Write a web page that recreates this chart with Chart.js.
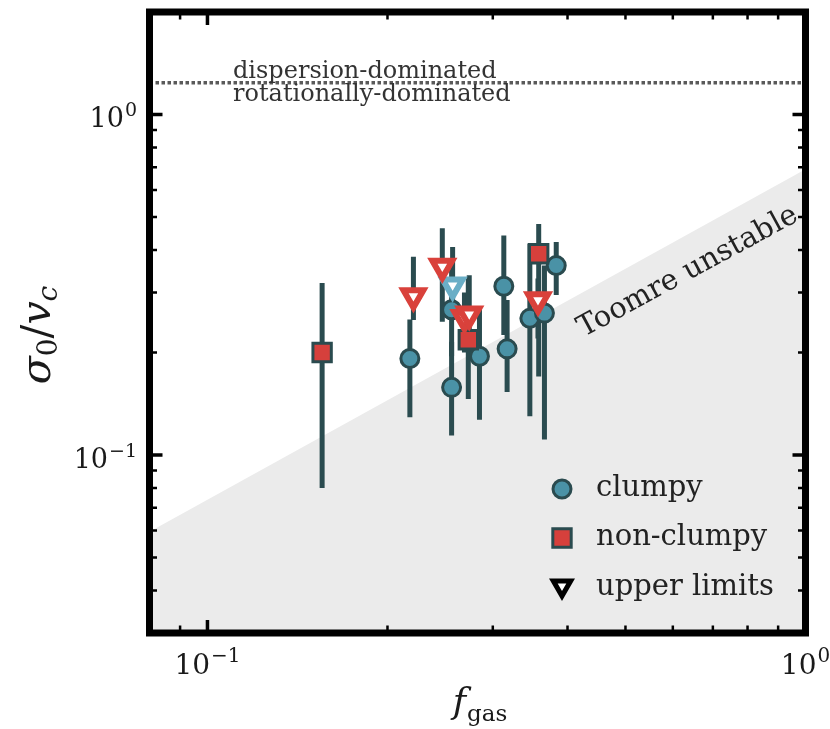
<!DOCTYPE html>
<html>
<head>
<meta charset="utf-8">
<script src="https://cdn.jsdelivr.net/npm/chart.js@4/dist/chart.umd.min.js"></script>
<style>
  html, body { margin: 0; padding: 0; background: #ffffff; }
  canvas { display: block; }
</style>
</head>
<body>
<canvas id="c" width="830" height="729"></canvas>
<script>
// Clumpy galaxies: gas fraction, sigma0/vc and the error-bar range
const clumpyFgas  = [0.218, 0.256, 0.256, 0.285, 0.313, 0.317, 0.346, 0.366, 0.383];
const clumpySigma = [0.192, 0.267, 0.158, 0.195, 0.313, 0.205, 0.252, 0.261, 0.360];
const clumpyLow   = [0.129, 0.195, 0.114, 0.127, 0.225, 0.153, 0.130, 0.111, 0.295];
const clumpyHigh  = [0.250, 0.350, 0.215, 0.270, 0.441, 0.285, 0.418, 0.360, 0.422];

// Non-clumpy galaxies
const nonClumpyFgas  = [0.1555, 0.273, 0.358];
const nonClumpySigma = [0.200, 0.218, 0.390];
const nonClumpyLow   = [0.080, 0.146, 0.170];
const nonClumpyHigh  = [0.320, 0.330, 0.477];

// Upper limits on sigma0/vc (non-clumpy)
const limitNcFgas  = [0.221, 0.247, 0.269, 0.274, 0.357];
const limitNcSigma = [0.293, 0.358, 0.253, 0.259, 0.285];
const limitNcLow   = [0.249, 0.246, 0.200, 0.200, 0.220];
const limitNcHigh  = [0.382, 0.463, 0.300, 0.337, 0.330];

// Upper limit on sigma0/vc (clumpy)
const limitClFgas  = [0.257];
const limitClSigma = [0.315];
const limitClLow   = [0.250];
const limitClHigh  = [0.408];

// Reference lines
const dispersionLimit = 1.24;                  // sigma0/vc separating the two regimes
const toomreFgas  = [0.08, 1.0];               // Toomre-unstable boundary
const toomreSigma = [0.0595, 0.69];

// Axes
const xRange = [0.08, 1.0];
const yRange = [0.03, 2.0];
const xMajor = [0.1, 1];
const xMinor = [0.09, 0.2, 0.3, 0.4, 0.5, 0.6, 0.7, 0.8, 0.9];
const yMajor = [0.1, 1];
const yMinor = [0.03, 0.04, 0.05, 0.06, 0.07, 0.08, 0.09, 0.2, 0.3, 0.4, 0.5, 0.6, 0.7, 0.8, 0.9];
const xTickLabels = [['10', '\u22121'], ['10', '0']];
const yTickLabels = [['10', '\u22121'], ['10', '0']];

const legendLabels = ['clumpy', 'non-clumpy', 'upper limits'];

const ERR = '#2a4b4f';
const TEAL = '#4a92a6';
const RED = '#d6403c';
const RED_EDGE = '#d9413b';
const CYAN_EDGE = '#6aaec6';
const SERIF = '"DejaVu Serif", "Liberation Serif", serif';

const pts = (xs, ys) => xs.map((v, i) => ({ x: v, y: ys[i] }));

function errorBars(xs, lo, hi) {
  return xs.map((v, i) => ({
    data: [{ x: v, y: lo[i] }, { x: v, y: hi[i] }],
    showLine: true,
    borderColor: ERR,
    borderWidth: 5,
    borderCapStyle: 'butt',
    pointRadius: 0,
    fill: false,
    order: 5
  }));
}

const datasets = [
  {
    // shaded Toomre-unstable region
    data: pts(toomreFgas, toomreSigma),
    showLine: true,
    borderWidth: 0,
    borderColor: 'rgba(0,0,0,0)',
    backgroundColor: '#ebebeb',
    fill: 'start',
    pointRadius: 0,
    order: 10
  },
  {
    data: [{ x: xRange[0], y: dispersionLimit }, { x: xRange[1], y: dispersionLimit }],
    showLine: true,
    borderColor: '#5a5a5a',
    borderWidth: 3.5,
    borderDash: [3.5, 2.5],
    borderCapStyle: 'butt',
    pointRadius: 0,
    fill: false,
    order: 9
  },
  ...errorBars(clumpyFgas, clumpyLow, clumpyHigh),
  ...errorBars(nonClumpyFgas, nonClumpyLow, nonClumpyHigh),
  ...errorBars(limitNcFgas, limitNcLow, limitNcHigh),
  ...errorBars(limitClFgas, limitClLow, limitClHigh),
  {
    data: pts(clumpyFgas, clumpySigma),
    pointStyle: 'circle',
    pointRadius: 9,
    pointBorderWidth: 3,
    pointBackgroundColor: TEAL,
    pointBorderColor: ERR,
    order: 3
  },
  {
    data: pts(nonClumpyFgas, nonClumpySigma),
    pointStyle: 'rect',
    pointRadius: 13,
    pointBorderWidth: 3,
    pointBackgroundColor: RED,
    pointBorderColor: ERR,
    order: 2
  },
  {
    data: pts(limitClFgas, limitClSigma),
    pointStyle: 'triangle',
    rotation: 180,
    pointRadius: 11.5,
    pointBorderWidth: 6,
    pointBackgroundColor: '#ffffff',
    pointBorderColor: CYAN_EDGE,
    order: 1
  },
  {
    data: pts(limitNcFgas, limitNcSigma),
    pointStyle: 'triangle',
    rotation: 180,
    pointRadius: 11.5,
    pointBorderWidth: 6,
    pointBackgroundColor: '#ffffff',
    pointBorderColor: RED_EDGE,
    order: 0
  }
];

function drawPowerLabel(ctx, base, sup, x, y, align, size) {
  ctx.font = size + 'px ' + SERIF;
  const wb = ctx.measureText(base).width;
  const supSize = Math.round(size * 0.7);
  ctx.font = supSize + 'px ' + SERIF;
  const ws = ctx.measureText(sup).width;
  const total = wb + ws + 1;
  let x0 = x;
  if (align === 'center') x0 = x - total / 2;
  else if (align === 'right') x0 = x - total;
  ctx.textAlign = 'left';
  ctx.textBaseline = 'alphabetic';
  ctx.font = size + 'px ' + SERIF;
  ctx.fillText(base, x0, y);
  ctx.font = supSize + 'px ' + SERIF;
  ctx.fillText(sup, x0 + wb + 1, y - size * 0.42);
}

function markerPath(ctx, style, cx, cy, r) {
  ctx.beginPath();
  if (style === 'circle') {
    ctx.arc(cx, cy, r, 0, Math.PI * 2);
  } else if (style === 'rect') {
    const s = r * Math.SQRT1_2;
    ctx.rect(cx - s, cy - s, 2 * s, 2 * s);
  } else {
    ctx.moveTo(cx, cy + r);
    ctx.lineTo(cx - r * Math.sqrt(3) / 2, cy - r / 2);
    ctx.lineTo(cx + r * Math.sqrt(3) / 2, cy - r / 2);
    ctx.closePath();
  }
}

const decor = {
  id: 'decor',
  afterDatasetsDraw(chart) {
    const { ctx, chartArea: a } = chart;
    const xs = chart.scales.x, ys = chart.scales.y;
    ctx.save();

    // annotation texts
    ctx.fillStyle = '#333333';
    ctx.font = '24px ' + SERIF;
    ctx.textAlign = 'left';
    ctx.textBaseline = 'alphabetic';
    const yLine = ys.getPixelForValue(dispersionLimit);
    ctx.fillText('dispersion-dominated', 233, yLine - 5);
    ctx.fillText('rotationally-dominated', 233, yLine + 18);

    // Toomre label along the boundary
    ctx.save();
    ctx.translate(688, 272);
    ctx.rotate(-28.5 * Math.PI / 180);
    ctx.fillStyle = '#222222';
    ctx.font = '29px ' + SERIF;
    ctx.textAlign = 'center';
    ctx.textBaseline = 'middle';
    ctx.fillText('Toomre unstable', 0, 0);
    ctx.restore();

    // legend
    const legX = 562, legY = [489, 538, 588];
    const styles = ['circle', 'rect', 'triangle'];
    styles.forEach((st, i) => {
      if (st === 'circle') {
        markerPath(ctx, 'circle', legX, legY[i], 9);
        ctx.fillStyle = TEAL; ctx.fill();
        ctx.lineWidth = 3; ctx.strokeStyle = ERR; ctx.stroke();
      } else if (st === 'rect') {
        markerPath(ctx, 'rect', legX, legY[i], 13);
        ctx.fillStyle = RED; ctx.fill();
        ctx.lineWidth = 3; ctx.strokeStyle = ERR; ctx.stroke();
      } else {
        markerPath(ctx, 'triangle', legX, legY[i] - 2, 10);
        ctx.fillStyle = '#ffffff'; ctx.fill();
        ctx.lineWidth = 5; ctx.lineJoin = 'miter'; ctx.strokeStyle = '#000000'; ctx.stroke();
      }
      ctx.fillStyle = '#222222';
      ctx.font = '29px ' + SERIF;
      ctx.textAlign = 'left';
      ctx.textBaseline = 'alphabetic';
      ctx.fillText(legendLabels[i], 596, legY[i] + 7);
    });

    // ticks on all four sides, pointing inwards
    ctx.strokeStyle = '#000000';
    const tick = (vals, len, w) => {
      ctx.lineWidth = w;
      vals.forEach(v => {
        const px = xs.getPixelForValue(v);
        if (px > a.left + 1 && px < a.right - 1) {
          ctx.beginPath();
          ctx.moveTo(px, a.bottom); ctx.lineTo(px, a.bottom - len);
          ctx.moveTo(px, a.top); ctx.lineTo(px, a.top + len);
          ctx.stroke();
        }
      });
    };
    const ytick = (vals, len, w) => {
      ctx.lineWidth = w;
      vals.forEach(v => {
        const py = ys.getPixelForValue(v);
        if (py > a.top + 1 && py < a.bottom - 1) {
          ctx.beginPath();
          ctx.moveTo(a.left, py); ctx.lineTo(a.left + len, py);
          ctx.moveTo(a.right, py); ctx.lineTo(a.right - len, py);
          ctx.stroke();
        }
      });
    };
    tick(xMajor, 13, 3.5);
    tick(xMinor, 7.5, 2.5);
    ytick(yMajor, 13, 3.5);
    ytick(yMinor, 7.5, 2.5);

    // frame
    ctx.lineWidth = 7;
    ctx.strokeStyle = '#000000';
    ctx.strokeRect(a.left, a.top, a.right - a.left, a.bottom - a.top);

    // tick labels
    ctx.fillStyle = '#1a1a1a';
    xMajor.forEach((v, i) => {
      drawPowerLabel(ctx, xTickLabels[i][0], xTickLabels[i][1], xs.getPixelForValue(v), 674, 'center', 28);
    });
    yMajor.forEach((v, i) => {
      drawPowerLabel(ctx, yTickLabels[i][0], yTickLabels[i][1], 137, ys.getPixelForValue(v) + 13, 'right', 27);
    });

    // x title: f_gas
    ctx.fillStyle = '#1a1a1a';
    ctx.textAlign = 'left';
    ctx.textBaseline = 'alphabetic';
    ctx.font = 'italic 36px ' + SERIF;
    const wf = ctx.measureText('f').width;
    ctx.font = '23px ' + SERIF;
    const wg = ctx.measureText('gas').width;
    const cx = (a.left + a.right) / 2 + 2;
    const fx = cx - (wf + wg) / 2;
    ctx.font = 'italic 36px ' + SERIF;
    ctx.fillText('f', fx, 713);
    ctx.font = '23px ' + SERIF;
    ctx.fillText('gas', fx + wf + 1, 721);

    // y title: sigma_0 / v_c
    ctx.save();
    ctx.translate(50, 335);
    ctx.rotate(-Math.PI / 2);
    const parts = [
      { t: '\u03c3', f: 'italic 41px ', dy: 0 },
      { t: '0', f: '28px ', dy: 7 },
      { t: '/', f: '41px ', dy: 0 },
      { t: 'v', f: 'italic 41px ', dy: 0 },
      { t: 'c', f: 'italic 28px ', dy: 7 }
    ];
    let tw = 0;
    parts.forEach(p => { ctx.font = p.f + SERIF; p.w = ctx.measureText(p.t).width; tw += p.w; });
    let px = -tw / 2;
    parts.forEach(p => {
      ctx.font = p.f + SERIF;
      ctx.fillText(p.t, px, p.dy);
      px += p.w;
    });
    ctx.restore();

    ctx.restore();
  }
};

new Chart(document.getElementById('c'), {
  type: 'scatter',
  data: { datasets },
  options: {
    responsive: false,
    animation: false,
    events: [],
    layout: { autoPadding: false, padding: { left: 0, right: 24.5, top: 12, bottom: 0 } },
    plugins: { legend: { display: false }, tooltip: { enabled: false } },
    scales: {
      x: {
        type: 'logarithmic',
        min: xRange[0], max: xRange[1],
        grid: { display: false },
        border: { display: false },
        ticks: { display: false },
        afterFit(s) { s.height = 96; }
      },
      y: {
        type: 'logarithmic',
        min: yRange[0], max: yRange[1],
        grid: { display: false },
        border: { display: false },
        ticks: { display: false },
        afterFit(s) { s.width = 149.5; }
      }
    }
  },
  plugins: [decor]
});
</script>
</body>
</html>
